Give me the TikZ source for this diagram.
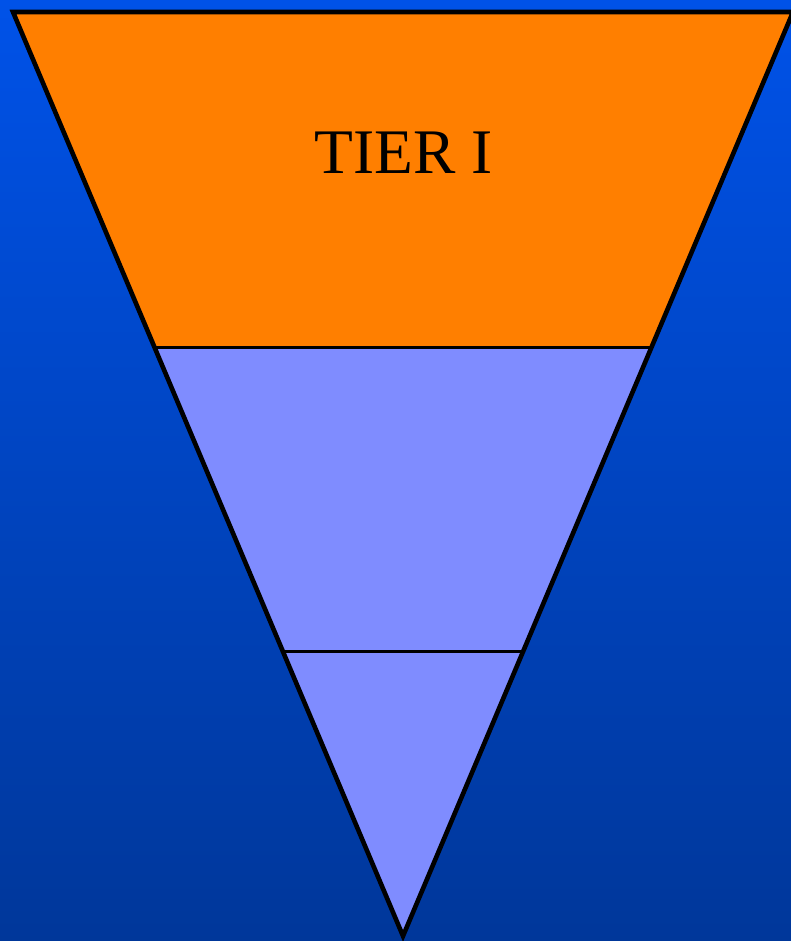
\documentclass[tikz,border=0pt]{standalone}
\usepackage{fontspec}
\setmainfont{Liberation Serif}
\begin{document}
\begin{tikzpicture}[x=1pt,y=-1pt,
  outline/.style={draw=black,line width=4.6pt,line join=miter},
  divider/.style={draw=black,line width=3pt},
  tierlabel/.style={font=\fontsize{63.5}{63.5}\selectfont,text=black,inner sep=0pt}]
\definecolor{tierorange}{HTML}{FF7F00}
\definecolor{tierblue}{HTML}{7F8CFF}
\definecolor{bgtop}{HTML}{0052E8}
\definecolor{bgbottom}{HTML}{00379A}
\useasboundingbox (0,0) rectangle (791,941);
\shade[top color=bgtop,bottom color=bgbottom] (0,0) rectangle (791,941);
\coordinate (tl) at (13,12);
\coordinate (tr) at (793,12);
\coordinate (apex) at (403,936);
\coordinate (l1) at (154.1,347);
\coordinate (r1) at (651.9,347);
\coordinate (l2) at (282.1,651);
\coordinate (r2) at (523.9,651);
\fill[tierorange] (tl) -- (tr) -- (r1) -- (l1) -- cycle;
\fill[tierblue] (l1) -- (r1) -- (apex) -- cycle;
\draw[divider] (l1) -- (r1);
\draw[divider] (l2) -- (r2);
\draw[outline] (tl) -- (tr) -- (apex) -- cycle;
\node[tierlabel] (tier) at (404,152.5) {TIER I};
\end{tikzpicture}
\end{document}
